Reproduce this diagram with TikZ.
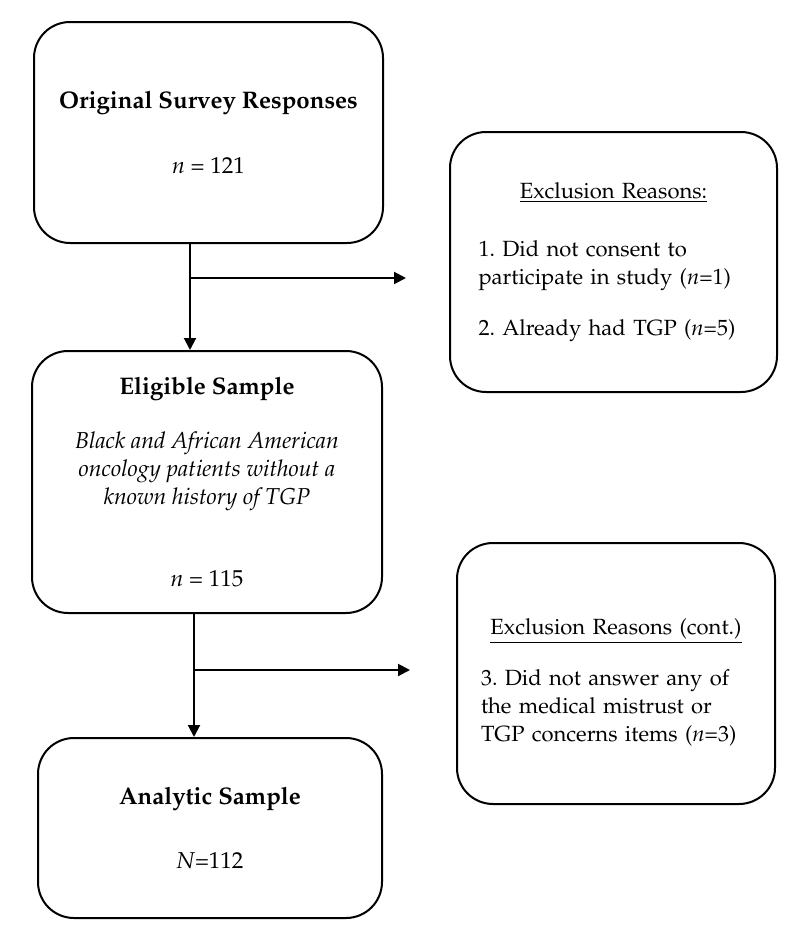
\documentclass[tikz,border=0pt]{standalone}
\usepackage[T1]{fontenc}
\usepackage{mathpazo}
\usetikzlibrary{arrows.meta}
\newcommand{\TITLE}[1]{{\fontsize{12}{14}\selectfont\bfseries #1}}
\newcommand{\HEAD}[1]{\makebox[\linewidth]{\underline{#1}}}

\begin{document}
\begin{tikzpicture}[x=0.5pt,y=-0.5pt,
  box/.style={draw,line width=1pt,rounded corners=18pt,align=center,
    font=\fontsize{11.5}{14}\selectfont},
  exbox/.style={box,align=left,text width=135pt,
    font=\fontsize{11}{14}\selectfont\frenchspacing},
  flow/.style={line width=1pt,-{Triangle[length=6pt,width=6pt]}}]
  \useasboundingbox (0,0) rectangle (794,937);

  \node[box,minimum width=174.5pt,minimum height=110.5pt] (orig) at (208.5,132.5)
    {\TITLE{Original Survey Responses}\\[18.5pt] \textit{n} = 121};
  \node[box,minimum width=175pt,minimum height=131pt] (elig) at (207,482)
    {\TITLE{Eligible Sample}\\[13pt]
     \textit{Black and African American}\\ \textit{oncology patients without a}\\
     \textit{known history of TGP}\\[27pt] \textit{n} = 115};
  \node[box,minimum width=172pt,minimum height=90pt] (anal) at (210,828)
    {\TITLE{Analytic Sample}\\[18pt] \textit{N}=112};

  \node[exbox,minimum width=163.5pt,minimum height=130pt] (exA) at (613.5,262)
    {\HEAD{Exclusion Reasons:}\\[15pt]
     1. Did not consent to\\ participate in study (\textit{n}=1)\\[11.5pt]
     2. Already had TGP (\textit{n}=5)};
  \node[exbox,minimum width=159pt,minimum height=130.5pt] (exB) at (616,673.5)
    {\rule{0pt}{17pt}\HEAD{Exclusion Reasons (cont.)}\\[11.5pt]
     3. Did not answer any of\\ the medical mistrust or\\
     TGP concerns items (\textit{n}=3)};

  \coordinate (jA) at (190,278);
  \coordinate (tA) at (406,278);
  \coordinate (jB) at (194,670);
  \coordinate (tB) at (410,670);

  \draw[flow] (orig.south -| jA) -- (elig.north -| jA);
  \draw[flow] (jA) -- (tA);
  \draw[flow] (elig.south -| jB) -- (anal.north -| jB);
  \draw[flow] (jB) -- (tB);
\end{tikzpicture}
\end{document}
